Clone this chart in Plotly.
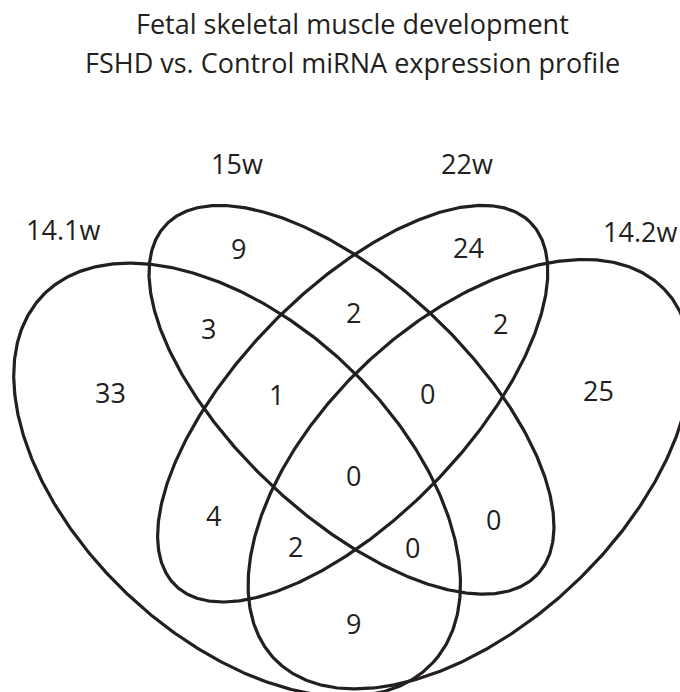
import numpy as np
import plotly.graph_objects as go

# ---- data ----
set_names = ["14.1w", "15w", "22w", "14.2w"]
# region membership codes (order of set_names) and their miRNA counts
region_codes = ["1000", "0100", "0010", "0001",
                "1100", "0110", "0011", "1010", "0101", "1001",
                "1110", "0111", "1011", "1101", "1111"]
region_counts = [33, 9, 24, 25,
                 3, 2, 2, 4, 0, 9,
                 1, 0, 2, 0, 0]
title_lines = ["Fetal skeletal muscle development",
               "FSHD vs. Control miRNA expression profile"]

# ---- layout / geometry (pixel space) ----
ellipse_geom = {  # cx, cy, semi-major, semi-minor, angle(deg)
    "14.1w": (237.1, 479.8, 267.9, 158.4, 43.2),
    "15w":   (351.5, 399.8, 255.1, 117.0, 43.2),
    "22w":   (352.7, 403.7, 253.9, 113.7, -45.7),
    "14.2w": (469.5, 474.2, 268.6, 151.6, -43.3),
}
set_label_pos = {"14.1w": (63, 229, "center"), "15w": (237, 163, "center"),
                 "22w": (467, 163, "center"), "14.2w": (679, 231, "right")}
region_label_pos = {
    "1000": (110, 392), "0100": (238, 248), "0010": (468, 247), "0001": (598, 390),
    "1100": (208, 328), "0110": (353, 312), "0011": (500, 323), "1010": (213, 515),
    "0101": (493, 519), "1001": (353, 623), "1110": (276, 394), "0111": (427, 393),
    "1011": (295, 546), "1101": (412, 547), "1111": (353, 475),
}
title_pos = [(352, 23), (352, 62)]

INK = "#231f20"
FONT = "Open Sans"
FS = 27

fig = go.Figure()
t = np.linspace(0, 2 * np.pi, 600)
for name in set_names:
    cx, cy, a, b, ang = ellipse_geom[name]
    th = np.radians(ang)
    xs = cx + a * np.cos(t) * np.cos(th) - b * np.sin(t) * np.sin(th)
    ys = cy + a * np.cos(t) * np.sin(th) + b * np.sin(t) * np.cos(th)
    fig.add_trace(go.Scatter(x=xs, y=ys, mode="lines", name=name,
                             line=dict(color=INK, width=3.2), hoverinfo="skip"))

for code, cnt in zip(region_codes, region_counts):
    x, y = region_label_pos[code]
    fig.add_annotation(x=x, y=y, text=str(cnt), showarrow=False,
                       xanchor="center", yanchor="middle",
                       font=dict(family=FONT, size=FS, color=INK))

for name in set_names:
    x, y, anchor = set_label_pos[name]
    fig.add_annotation(x=x, y=y, text=name, showarrow=False,
                       xanchor=anchor, yanchor="middle",
                       font=dict(family=FONT, size=FS, color=INK))

for line, (x, y) in zip(title_lines, title_pos):
    fig.add_annotation(x=x, y=y, text=line, showarrow=False,
                       xanchor="center", yanchor="middle",
                       font=dict(family=FONT, size=FS, color=INK))

fig.update_layout(width=680, height=692, margin=dict(l=0, r=0, t=0, b=0),
                  showlegend=False, plot_bgcolor="white", paper_bgcolor="white",
                  xaxis=dict(range=[0, 680], visible=False, fixedrange=True),
                  yaxis=dict(range=[692, 0], visible=False, fixedrange=True))
fig.write_html("out.html", config={"displayModeBar": False},
               post_script="document.body.style.margin='0';document.body.style.overflow='hidden';")
